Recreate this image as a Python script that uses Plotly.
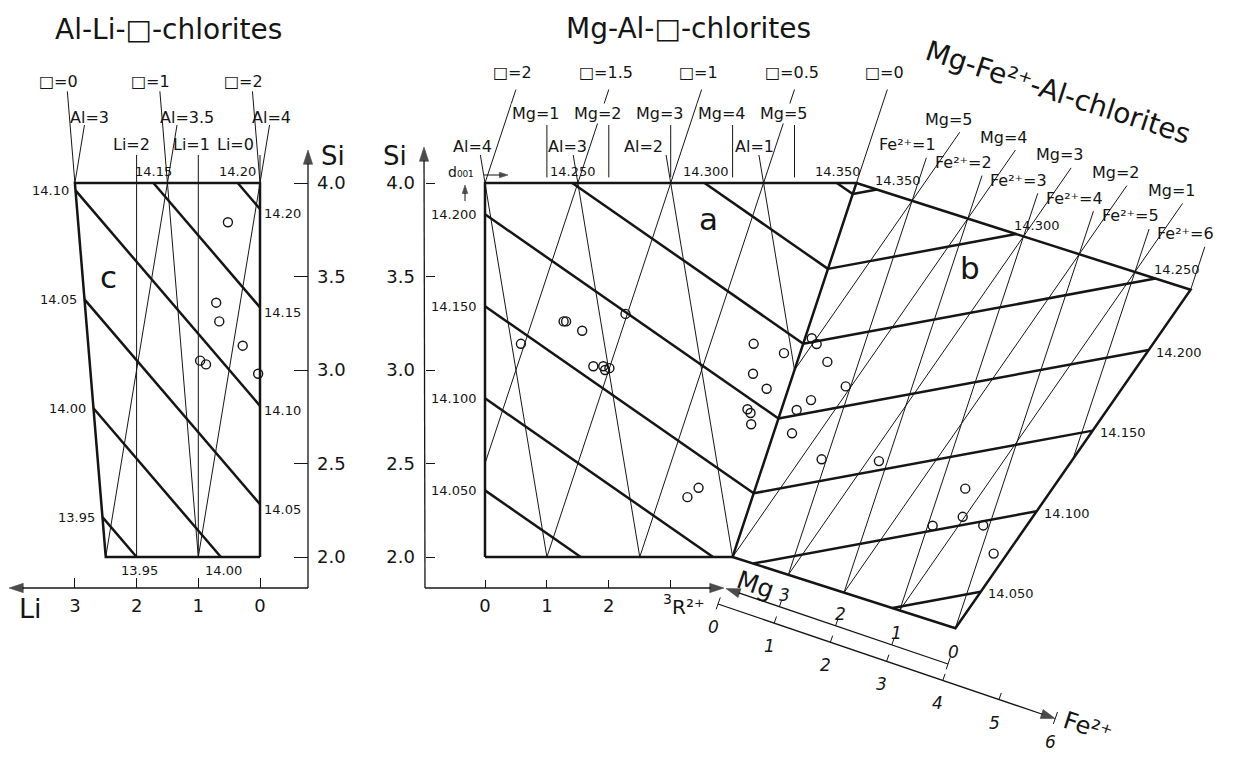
import plotly.graph_objects as go

# ---------------- data ----------------
SI_TICKS = [2.0, 2.5, 3.0, 3.5, 4.0]
R_TICKS = [0, 1, 2, 3]
LI_TICKS = [0, 1, 2, 3]
FE_TICKS = [0, 1, 2, 3, 4, 5, 6]
MG_TICKS = [0, 1, 2, 3]

# a : Mg-Al-vacancy chlorites
D001_A = [14.050, 14.100, 14.150, 14.200, 14.250, 14.300, 14.350]
VAC_A = [2, 1.5, 1, 0.5, 0]
AL_A = [4, 3, 2, 1]
MG_A = [1, 2, 3, 4, 5]
# b : Mg-Fe2+-Al chlorites
D001_B = [14.050, 14.100, 14.150, 14.200, 14.250, 14.300, 14.350]
FE_B = [1, 2, 3, 4, 5, 6]
MG_B = [5, 4, 3, 2, 1]
# c : Al-Li-vacancy chlorites
D001_C = [13.95, 14.00, 14.05, 14.10, 14.15, 14.20]
VAC_C = [0, 1, 2]
AL_C = [3, 3.5, 4]
LI_C = [2, 1, 0]

# analysed samples
C_LI = [0.52, 0.71, 0.66, 0.28, 0.97, 0.875, 0.03]
C_SI = [3.79, 3.36, 3.26, 3.13, 3.05, 3.03, 2.98]
A_R = [0.58, 1.27, 1.31, 1.57, 2.27, 1.75, 1.91, 1.94, 2.01, 3.27, 3.45,
       4.34, 4.33, 4.55, 4.24, 4.29, 4.30, 4.83]
A_SI = [3.14, 3.26, 3.26, 3.21, 3.30, 3.02, 3.02, 3.00, 3.01, 2.32, 2.37,
        3.14, 2.98, 2.90, 2.79, 2.77, 2.71, 3.09]
B_FE = [0.11, 0.22, 0.49, 0.92, 0.25, 0.43, 0.30, 0.92, 1.86, 3.41, 3.52, 3.08, 3.90, 4.22]
B_SI = [3.18, 3.16, 3.09, 3.00, 2.81, 2.88, 2.69, 2.61, 2.69, 2.69, 2.55, 2.46, 2.54, 2.42]

# linear d001 calibration of the nomograms
DA0, DA_SI, DA_R, DA_FE = 14.217, 0.1016, 0.0234, -0.020
DC0, DC_SI, DC_LI = 14.2132, 0.095, -0.0366

# ---------------- page / scale geometry ----------------
OFF = 8
W, H = 1224, 746
R0_PX, R_PX = 485.0, 61.9
SI2_PY, SI_PY = 557.0, 187.0
LI0_PX, LI_PX = 260.0, 61.7
KX = 55.7 / R_PX      # oblique Fe2+ direction (R units per Fe)
KY = 17.8 / SI_PY     # oblique Fe2+ direction (Si units per Fe)


def R_of(px):
    return (px - R0_PX) / R_PX


def Si_of(py):
    return 2 + (SI2_PY - py) / SI_PY


def Li_of(px):
    return (LI0_PX - px) / LI_PX


def P(px, py):
    return R_of(px), Si_of(py)


def pb(fe, si):
    # projection of the Mg-Fe plane (b) into the R2+ / Si axes
    return si + 2 + fe * KX, si - fe * KY


INK = '#151515'
FONT = 'DejaVu Sans'
FE2 = 'Fe\u00b2\u207a'
BOX = '\u25a1'
fig = go.Figure()


def add_lines(segs, width, xaxis='x'):
    xs, ys = [], []
    for seg in segs:
        for x, y in seg:
            xs.append(x)
            ys.append(y)
        xs.append(None)
        ys.append(None)
    fig.add_trace(go.Scatter(x=xs, y=ys, mode='lines', xaxis=xaxis, yaxis='y',
                             line=dict(color=INK, width=width), hoverinfo='skip',
                             showlegend=False))


def arrow(head, tail, xaxis='x', width=1.3, size=15):
    fig.add_trace(go.Scatter(
        x=[tail[0], head[0]], y=[tail[1], head[1]], mode='lines+markers',
        xaxis=xaxis, yaxis='y', line=dict(color=INK, width=width),
        marker=dict(symbol=['circle', 'arrow'], size=[0, size], angleref='previous',
                    color='black', line=dict(width=0.6, color='black')),
        hoverinfo='skip', showlegend=False))


def clip(A, B, C, planes):
    """Line A*u+B*v+C=0 clipped to convex polygon {a*u+b*v<=c}."""
    if abs(B) > abs(A):
        p = (0.0, -C / B)
    else:
        p = (-C / A, 0.0)
    d = (B, -A)
    t0, t1 = -1e9, 1e9
    for a, b, c in planes:
        den = a * d[0] + b * d[1]
        num = c - (a * p[0] + b * p[1])
        if abs(den) < 1e-12:
            if num < 0:
                return None
            continue
        t = num / den
        if den > 0:
            t1 = min(t1, t)
        else:
            t0 = max(t0, t)
    if t0 >= t1:
        return None
    return (p[0] + t0 * d[0], p[1] + t0 * d[1]), (p[0] + t1 * d[0], p[1] + t1 * d[1])


PLANES_AB = [(-1, 0, 0), (0, 1, 4), (0, -1, -2), (1, -1, 2)]
PLANES_C = [(-1, 0, 0), (0, 1, 4), (0, -1, -2), (1, -0.25, 2)]

ann = []


def label(text, x, y, size=16, xref='x', xanchor='center', yanchor='middle',
          xs=0, ys=0, angle=0, bg=None, italic=False):
    font = dict(family=FONT, size=size, color=INK)
    if italic:
        font['style'] = 'italic'
    d = dict(text=text, x=x, y=y, xref=xref, yref='y', xanchor=xanchor,
             yanchor=yanchor, xshift=xs, yshift=ys, showarrow=False,
             textangle=angle, font=font, borderpad=0)
    if bg:
        d['bgcolor'] = bg
    ann.append(d)


def fmt(v):
    return f'{v:g}'


# ======================= region a =======================
thin_a = []
for v in VAC_A:
    lo = max(2.0, 3 * v - 2)
    thin_a.append([(2 + s - 3 * v, s) for s in (lo, 4.5)])
    label(f'{BOX}={fmt(v)}', 2 + 4.5 - 3 * v, 4.5, xs=-3, ys=17)
for al in AL_A:
    lo = max(2.0, 4 - al)
    thin_a.append([((16 - s - 3 * al) / 2, s) for s in (lo, 4.15)])
AL_SHIFT = {4: -8, 3: -6, 2: -23, 1: -4}
for al in AL_A:
    label(f'Al={fmt(al)}', (16 - 4.15 - 3 * al) / 2, 4.15, xs=AL_SHIFT[al], ys=8)
for m in MG_A:
    thin_a.append([(m, 4.03), (m, 4.31)])
    label(f'Mg={m}', m, 4.31, xs=-11, ys=12, bg='white')
add_lines(thin_a, 1.0)

thick_a = [[(0, 2), (0, 4), (6, 4), (4, 2), (0, 2)]]
for d in D001_A:
    seg = clip(DA_R, DA_SI, DA0 - 4 * DA_SI - d, PLANES_AB)
    if seg is None:
        continue
    thick_a.append(list(seg))
    for (u, v) in seg:
        if abs(u) < 1e-6:
            label(f'{d:.3f}', u, v, size=13, xanchor='right', xs=-7)
        elif abs(v - 4) < 1e-6:
            label(f'{d:.3f}', u, v, size=13, xs=1, ys=12)
add_lines(thick_a, 2.5)

# ======================= region b =======================
thin_b = []
for f in FE_B:
    lo = max(2.0, f - 2)
    thin_b.append([pb(f, s) for s in (lo, 4.23)])
    ex, ey = pb(f, 4.23)
    label(f'{FE2}={f}', ex, ey, xs=-19, ys=13)
for m in MG_B:
    lo = max(2.0, m - 2)
    thin_b.append([pb(s + 2 - m, s) for s in (lo, 4.405)])
    ex, ey = pb(4.405 + 2 - m, 4.405)
    label(f'Mg={m}', ex, ey, xs=-11, ys=13)
add_lines(thin_b, 1.0)

thick_b = [[pb(0, 4), pb(6, 4), pb(4, 2), pb(0, 2)]]
for d in D001_B:
    seg = clip(DA_FE, DA_SI + DA_R, DA0 - 4 * DA_SI + 2 * DA_R - d, PLANES_AB)
    if seg is None:
        continue
    thick_b.append([pb(u, v) for u, v in seg])
    for (u, v) in seg:
        x, y = pb(u, v)
        if abs(v - 4) < 1e-6 and u > 1e-6:
            label(f'{d:.3f}', x, y, size=13, xanchor='left', xs=-3, ys=9)
        elif abs(u - (v + 2)) < 1e-6:
            label(f'{d:.3f}', x, y, size=13, xanchor='left', xs=6, ys=-2)
add_lines(thick_b, 2.5)

# ======================= region c =======================
thin_c = []
for v in VAC_C:
    top = 3 - 1.5 * v
    lo = max(2.0, 4 - 4 * top)
    thin_c.append([(top - (4 - s) / 4, s) for s in (lo, 4.49)])
    label(f'{BOX}={fmt(v)}', top - (4 - 4.49) / 4, 4.49, xref='x2', xs=-9, ys=10)
AL_C_SHIFT = {3: 5, 3.5: 10, 4: 2}
for al in AL_C:
    top = 3 * (4 - al)
    lo = max(2.0, 16 - 4 * al)
    thin_c.append([(top + (4 - s) / 2, s) for s in (lo, 4.31)])
    label(f'Al={fmt(al)}', top + (4 - 4.31) / 2, 4.31, xref='x2', xs=AL_C_SHIFT[al], ys=8)
LI_SHIFT = {2: -5, 1: -7, 0: -25}
for li in LI_C:
    thin_c.append([(li, 2 if li > 0 else 4), (li, 4.15)])
    label(f'Li={li}', li, 4.15, xref='x2', xs=LI_SHIFT[li], ys=10)
add_lines(thin_c, 1.0, xaxis='x2')

thick_c = [[(0, 2), (0, 4), (2 + 4 / 4, 4), (2 + 2 / 4, 2), (0, 2)]]
for d in D001_C:
    seg = clip(DC_LI, DC_SI, DC0 - 4 * DC_SI - d, PLANES_C)
    if seg is None:
        continue
    thick_c.append(list(seg))
    for (u, v) in seg:
        if abs(v - 4) < 1e-6 and u < 2.99:
            label(f'{d:.2f}', u, v, size=13, xref='x2', ys=12)
        elif abs(u) < 1e-6:
            label(f'{d:.2f}', u, v, size=13, xref='x2', xanchor='left', xs=3, ys=-5)
        elif abs(v - 2) < 1e-6:
            label(f'{d:.2f}', u, v, size=13, xref='x2', xs=3, ys=-13)
        else:
            label(f'{d:.2f}', u, v, size=13, xref='x2', xanchor='right', xs=-6)
add_lines(thick_c, 2.5, xaxis='x2')

# ======================= samples =======================
mk = dict(symbol='circle-open', size=9, color=INK, line=dict(width=1.4, color=INK))
fig.add_trace(go.Scatter(x=A_R, y=A_SI, mode='markers', marker=mk, showlegend=False))
bx = [pb(f, s)[0] for f, s in zip(B_FE, B_SI)]
by = [pb(f, s)[1] for f, s in zip(B_FE, B_SI)]
fig.add_trace(go.Scatter(x=bx, y=by, mode='markers', marker=mk, showlegend=False))
fig.add_trace(go.Scatter(x=C_LI, y=C_SI, mode='markers', marker=mk, xaxis='x2',
                         yaxis='y', showlegend=False))
# anchor trace for the right-hand Si axis of diagram c
fig.add_trace(go.Scatter(x=[None], y=[None], xaxis='x2', yaxis='y2', showlegend=False))

# ======================= axes decorations =======================
# middle diagram: Si and R2+ axes
arrow(P(424, 147), P(425, 588))
arrow(P(724, 588), P(425, 588))
label('Si', *P(395, 156), size=26)
# last R2+ tick label is set small and raised, next to the axis name
label(str(R_TICKS[-1]), R_TICKS[-1], Si_of(599), size=14, xs=-3)
label('R\u00b2\u207a', *P(671, 607), size=20, xanchor='left')
# left diagram: Li and Si axes
arrow((Li_of(9), Si_of(588)), (Li_of(308), Si_of(588)), xaxis='x2')
arrow((Li_of(308), Si_of(150)), (Li_of(308), Si_of(588)), xaxis='x2')
label('Li', Li_of(30), Si_of(608), size=27, xref='x2')
label('Si', Li_of(333), Si_of(156), size=26, xref='x2')

# oblique Fe2+ axis
FE_O = P(718, 604)
FE_STEP = (56.2 / R_PX, -19.1 / SI_PY)
TK = (2.3 / R_PX, 6.6 / SI_PY)


def fe_pt(k):
    return FE_O[0] + k * FE_STEP[0], FE_O[1] + k * FE_STEP[1]


arrow(fe_pt(6), fe_pt(0))
fe_ticks = []
for k in FE_TICKS:
    x, y = fe_pt(k)
    lo = -0.8 if k in (0, 6) else 0.0
    fe_ticks.append([(x + lo * TK[0], y + lo * TK[1]), (x + TK[0], y + TK[1])])
    label(str(k), x, y, size=17, xs=-5, ys=-23, italic=True)
add_lines(fe_ticks, 1.0)
label(FE2, *P(1088, 727), size=24, angle=18)

# oblique Mg axis
MG_O = P(948, 664)


def mg_pt(k):
    return MG_O[0] - k * FE_STEP[0], MG_O[1] - k * FE_STEP[1]


arrow(mg_pt(3.95), mg_pt(0))
mg_ticks = []
for k in MG_TICKS:
    x, y = mg_pt(k)
    lo = -0.8 if k == 0 else 0.0
    mg_ticks.append([(x + lo * TK[0], y + lo * TK[1]), (x + TK[0], y + TK[1])])
    label(str(k), x, y, size=17, xs=5, ys=12, italic=True)
add_lines(mg_ticks, 1.0)
label('Mg', *P(755, 584), size=25, angle=19)

# d001 pointers
label('d\u2080\u2080\u2081', *P(461, 172), size=14)
arrow(P(508, 175), P(484, 175), width=1.0, size=9)
arrow(P(465, 185), P(465, 201), width=1.0, size=9)

# region letters and titles
label('a', *P(708, 219), size=31)
label('b', *P(970, 268), size=31)
label('c', Li_of(108), Si_of(277), size=31, xref='x2')
label('Al-Li-' + BOX + '-chlorites', Li_of(168), Si_of(29), size=28, xref='x2')
label('Mg-Al-' + BOX + '-chlorites', *P(688, 28), size=28)
label('Mg-' + FE2 + '-Al-chlorites', *P(1058, 92), size=28, angle=18)

# ======================= layout =======================
tickfont = dict(family=FONT, size=18, color=INK)
pos_x = 1 - (588 - OFF) / H
common = dict(showgrid=False, zeroline=False, showline=False, ticks='inside',
              tickcolor=INK, tickwidth=1, tickfont=tickfont)
fig.update_layout(
    width=W, height=H, autosize=False,
    margin=dict(l=0, r=0, t=0, b=0),
    paper_bgcolor='white', plot_bgcolor='white', showlegend=False,
    xaxis=dict(range=[R_of(OFF), R_of(OFF + W)], domain=[0, 1], anchor='free',
               position=pos_x, tickvals=R_TICKS,
               ticktext=[str(v) for v in R_TICKS[:-1]] + [''], ticklen=8,
               ticklabelstandoff=5, **common),
    xaxis2=dict(range=[Li_of(OFF), Li_of(OFF + W)], overlaying='x', anchor='free',
                position=pos_x, tickvals=LI_TICKS, ticklen=10,
                ticklabelstandoff=5, **common),
    yaxis=dict(range=[Si_of(OFF + H), Si_of(OFF)], domain=[0, 1], anchor='free',
               position=(425 - OFF) / W, side='left', tickvals=SI_TICKS,
               ticktext=[f'{v:.1f}' for v in SI_TICKS], ticklen=9,
               ticklabelstandoff=10, **common),
    yaxis2=dict(range=[Si_of(OFF + H), Si_of(OFF)], overlaying='y', anchor='free',
                position=(308 - OFF) / W, side='right', tickvals=SI_TICKS,
                ticktext=[f'{v:.1f}' for v in SI_TICKS], ticklen=14,
                ticklabelstandoff=8, **common),
    annotations=ann,
)

fig.write_html("out.html", config={'displayModeBar': False})
